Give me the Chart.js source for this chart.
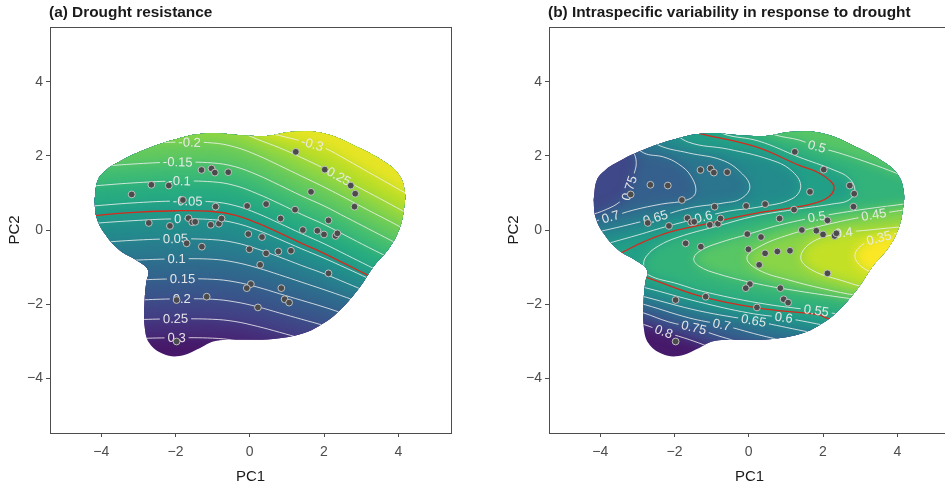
<!DOCTYPE html>
<html lang="en">
<head>
<meta charset="utf-8">
<title>Drought resistance and intraspecific variability across trait space</title>
<script src="https://cdn.jsdelivr.net/npm/chart.js@4.4.1/dist/chart.umd.min.js"></script>
<style>
  html, body { margin: 0; padding: 0; background: #fff; }
  body { position: relative; width: 945px; height: 487px; overflow: hidden; font-family: "Liberation Sans", Arial, Helvetica, sans-serif; }
  .panel { position: absolute; top: 0; width: 470px; height: 487px; }
  .panel-title { position: absolute; top: 3px; font-size: 15.4px; font-weight: bold; line-height: 18px; color: #1a1a1a; white-space: nowrap; }
</style>
</head>
<body>
<div class="panel" style="left:0"><canvas id="resistanceChart" width="470" height="487"></canvas></div>
<div class="panel" style="left:499px"><canvas id="variabilityChart" width="470" height="487"></canvas></div>
<div class="panel-title" style="left:49px">(a) Drought resistance</div>
<div class="panel-title" style="left:548px">(b) Intraspecific variability in response to drought</div>
<script>
// Species scores on the first two trait axes
const speciesPC1 = [1.24, -1.30, -1.03, -0.94, -0.58, -2.65, -2.18, -3.18, 2.02, 1.65, 2.72, 2.84, 2.82, -1.80, -0.92, -0.07, 0.44, 1.22, 0.83, 2.12, -2.72, -2.15, -1.65, -1.55, -1.47, -1.05, -0.83, -0.76, 1.43, 1.82, 2.00, 2.31, 2.36, -0.04, 0.33, -1.70, -1.29, -0.01, 0.44, 0.77, 1.11, 0.28, 2.12, 0.03, -0.08, 0.85, 0.94, 1.06, 0.22, -1.16, -1.97, -1.97];
const speciesPC2 = [2.11, 1.62, 1.66, 1.55, 1.56, 1.22, 1.20, 0.96, 1.63, 1.03, 1.20, 0.98, 0.63, 0.81, 0.63, 0.65, 0.70, 0.55, 0.31, 0.26, 0.19, 0.11, 0.32, 0.21, 0.22, 0.14, 0.17, 0.31, 0.00, -0.02, -0.12, -0.16, -0.09, -0.11, -0.19, -0.36, -0.45, -0.52, -0.63, -0.58, -0.56, -0.94, -1.17, -1.46, -1.57, -1.57, -1.87, -1.96, -2.09, -1.80, -1.89, -3.01];

// Outline of the sampled trait space (closed loop)
const hullPC1 = [-4.18, -4.09, -3.86, -3.59, -2.97, -2.07, -1.17, -0.27, 0.45, 1.17, 1.98, 2.88, 3.69, 4.05, 4.18, 4.16, 4.05, 3.78, 3.33, 2.97, 2.43, 1.98, 1.44, 0.63, -0.63, -0.99, -1.35, -1.89, -2.34, -2.70, -2.83, -2.83, -2.79, -2.74, -3.06, -3.51, -3.91, -4.13, -4.18];
const hullPC2 = [0.81, 1.35, 1.62, 1.80, 2.11, 2.43, 2.61, 2.56, 2.54, 2.65, 2.61, 2.25, 1.80, 1.44, 0.99, 0.63, 0.09, -0.45, -0.99, -1.53, -2.16, -2.52, -2.79, -2.94, -2.97, -3.01, -3.19, -3.40, -3.34, -3.06, -2.61, -1.89, -1.44, -1.08, -0.81, -0.54, -0.09, 0.36, 0.81];

const axisTicks = [-4, -2, 0, 2, 4];

// (a) Drought resistance: one contour per level, PC2 sampled on a shared PC1 grid
const resistanceGridX = [-5.2, -4.2, -3, -2, -1, -0.4, 0.2, 0.8, 1.4, 2, 2.6, 3.2, 3.8, 4.4, 5.2];
const resistanceLevels = [-0.3, -0.25, -0.2, -0.15, -0.1, -0.05, 0, 0.05, 0.1, 0.15, 0.2, 0.25, 0.3];
const resistanceLinesY = [
  [3.19, 3.29, 3.39, 3.43, 3.30, 3.05, 2.70, 2.55, 2.40, 2.22, 1.90, 1.56, 1.22, 0.88, 0.45],
  [2.66, 2.76, 2.86, 2.90, 2.86, 2.70, 2.45, 2.22, 1.95, 1.66, 1.33, 1.01, 0.69, 0.36, -0.07],
  [2.14, 2.23, 2.33, 2.37, 2.35, 2.24, 2.02, 1.74, 1.45, 1.16, 0.85, 0.53, 0.22, -0.10, -0.52],
  [1.60, 1.70, 1.79, 1.83, 1.81, 1.71, 1.49, 1.21, 0.92, 0.65, 0.34, 0.03, -0.28, -0.59, -1.00],
  [1.10, 1.19, 1.28, 1.32, 1.30, 1.20, 0.98, 0.71, 0.42, 0.15, -0.16, -0.47, -0.77, -1.08, -1.49],
  [0.56, 0.65, 0.74, 0.78, 0.76, 0.66, 0.45, 0.18, -0.10, -0.37, -0.67, -0.97, -1.27, -1.57, -1.97],
  [0.10, 0.18, 0.26, 0.30, 0.28, 0.19, 0.00, -0.25, -0.51, -0.76, -1.03, -1.31, -1.59, -1.86, -2.23],
  [-0.42, -0.35, -0.27, -0.24, -0.26, -0.34, -0.51, -0.73, -0.96, -1.18, -1.43, -1.68, -1.92, -2.17, -2.50],
  [-0.94, -0.87, -0.81, -0.78, -0.79, -0.87, -1.02, -1.21, -1.41, -1.61, -1.82, -2.04, -2.26, -2.47, -2.76],
  [-1.47, -1.41, -1.35, -1.32, -1.33, -1.40, -1.54, -1.72, -1.90, -2.08, -2.28, -2.48, -2.67, -2.87, -3.14],
  [-2.00, -1.94, -1.89, -1.86, -1.87, -1.94, -2.07, -2.24, -2.41, -2.58, -2.77, -2.96, -3.15, -3.34, -3.59],
  [-2.53, -2.48, -2.42, -2.40, -2.41, -2.47, -2.60, -2.76, -2.93, -3.09, -3.27, -3.45, -3.63, -3.81, -4.05],
  [-3.04, -2.99, -2.93, -2.91, -2.92, -2.98, -3.11, -3.27, -3.44, -3.60, -3.78, -3.96, -4.14, -4.32, -4.56]
];
const resistanceThresholdY = [0.30, 0.39, 0.48, 0.52, 0.50, 0.40, 0.19, -0.08, -0.36, -0.63, -0.93, -1.23, -1.53, -1.83, -2.23];
const resistanceLabelLevel = [-0.2, -0.15, -0.1, -0.05, 0, 0.05, 0.1, 0.15, 0.2, 0.25, 0.3, -0.3, -0.25];
const resistanceLabelX = [-1.62, -1.94, -1.89, -1.67, -1.94, -2.0, -1.97, -1.81, -1.83, -2.0, -1.97, 1.70, 2.35];
const resistanceLabelY = [2.37, 1.83, 1.32, 0.78, 0.30, -0.24, -0.78, -1.32, -1.86, -2.40, -2.91, 2.37, 1.48];

// (b) Intraspecific variability: contour pieces as [PC1, PC2] pairs
const v075 = [[-3.45, 2.50], [-3.12, 2.12], [-3.03, 1.82], [-3.10, 1.48], [-3.22, 1.10], [-3.45, 0.78], [-3.85, 0.55], [-4.30, 0.40], [-4.85, 0.30]];
const v070 = [[-3.24, 2.43], [-2.83, 2.08], [-2.29, 1.97], [-1.89, 1.78], [-1.56, 1.46], [-1.43, 1.02], [-1.67, 0.81], [-2.35, 0.70], [-3.10, 0.54], [-3.72, 0.35], [-4.15, 0.24], [-4.85, 0.08]];
const v065 = [[-2.83, 2.61], [-2.43, 2.29], [-1.62, 2.08], [-0.73, 1.89], [-0.22, 1.56], [0.03, 1.16], [-0.22, 0.84], [-0.67, 0.73], [-1.62, 0.59], [-2.54, 0.32], [-3.37, 0.11], [-4.05, -0.05], [-4.72, -0.22]];
const v060 = [[-2.16, 2.75], [-1.62, 2.37], [-0.54, 2.18], [0.54, 1.91], [1.13, 1.62], [1.40, 1.19], [1.16, 0.84], [0.27, 0.62], [-0.54, 0.51], [-1.21, 0.35], [-2.16, 0.11], [-2.97, -0.13], [-3.64, -0.32], [-4.31, -0.51]];
const v055 = [[-1.02, 2.83], [-0.67, 2.59], [0.27, 2.40], [1.35, 1.97], [2.29, 1.62], [2.70, 1.40], [2.86, 1.08], [2.70, 0.81], [2.24, 0.70], [1.35, 0.57], [0.19, 0.38], [-0.94, 0.08], [-1.89, -0.19], [-2.43, -0.43], [-2.75, -0.70], [-2.83, -0.94], [-2.70, -1.21], [-1.89, -1.46], [-1.27, -1.65], [0.27, -1.97], [1.81, -2.18], [2.43, -2.27], [3.24, -2.37]];
const v050top = [[0.27, 2.75], [0.73, 2.56], [1.35, 2.43], [1.83, 2.25], [2.43, 2.08], [3.24, 1.81], [3.96, 1.54], [4.85, 1.19]];
const v050 = [[4.99, 0.81], [4.18, 0.70], [2.97, 0.54], [1.83, 0.35], [0.81, 0.13], [0, -0.11], [-0.81, -0.35], [-1.27, -0.54], [-1.48, -0.76], [-1.35, -0.97], [-0.81, -1.19], [0.27, -1.46], [1.35, -1.65], [2.43, -1.81], [3.37, -1.94]];
const v045 = [[4.99, 0.65], [4.18, 0.54], [3.32, 0.40], [2.16, 0.16], [1.08, -0.13], [0.27, -0.46], [-0.05, -0.76], [0.27, -1.08], [1.08, -1.35], [2.16, -1.62], [2.97, -1.78], [3.64, -1.89]];
const v040 = [[4.99, 0.16], [4.05, 0.08], [3.24, 0], [2.56, -0.08], [1.75, -0.30], [1.40, -0.73], [1.70, -1.08], [2.62, -1.40], [3.16, -1.56], [3.78, -1.70]];
const v035 = [[4.99, 0.05], [4.05, -0.08], [3.51, -0.22], [3.13, -0.35], [2.86, -0.67], [3.05, -1.00], [3.51, -1.21], [4.05, -1.38]];
const v060b = [[-3.51, -1.40], [-2.78, -1.56], [-1.35, -1.94], [0, -2.24], [0.94, -2.37], [1.97, -2.56], [2.70, -2.72]];
const v065b = [[-3.51, -1.62], [-2.78, -1.81], [-1.35, -2.18], [0.13, -2.45], [1.35, -2.70], [2.16, -2.86]];
const v070b = [[-3.51, -1.83], [-2.78, -2.02], [-1.62, -2.37], [-0.73, -2.56], [0.27, -2.83], [1.08, -3.02]];
const v075b = [[-3.51, -2.05], [-2.83, -2.24], [-2.16, -2.48], [-1.48, -2.64], [-0.81, -2.86], [0, -3.10]];
const v080b = [[-3.51, -2.37], [-2.80, -2.56], [-2.29, -2.75], [-1.75, -2.91], [-1.21, -3.10], [-0.54, -3.37]];
const vThresholdUpper = [[-1.89, 2.75], [-1.35, 2.61], [0.18, 2.25], [1.35, 1.75], [1.89, 1.54], [2.25, 1.27], [2.29, 1.08], [2.16, 0.90], [1.89, 0.76], [1.35, 0.63], [0.18, 0.45], [-1.08, 0.18], [-2.11, -0.05], [-2.83, -0.32], [-3.28, -0.54], [-3.91, -0.86]];
const vThresholdLower = [[-3.37, -1.08], [-2.70, -1.30], [-1.26, -1.80], [0.27, -2.11], [1.89, -2.29], [2.11, -2.38], [2.70, -2.54]];
const variabilityLabelLine = ['v075', 'v070', 'v065', 'v060', 'v050top', 'v050', 'v045', 'v040', 'v035', 'v055', 'v060b', 'v065b', 'v070b', 'v075b', 'v080b'];
const variabilityLabelText = ['0.75', '0.7', '0.65', '0.6', '0.5', '0.5', '0.45', '0.4', '0.35', '0.55', '0.6', '0.65', '0.7', '0.75', '0.8'];
const variabilityLabelX = [-3.32, -3.72, -2.51, -1.21, 1.83, 1.83, 3.37, 2.56, 3.51, 1.81, 0.94, 0.13, -0.73, -1.48, -2.29];
const variabilityLabelY = [1.16, 0.35, 0.32, 0.32, 2.24, 0.35, 0.40, -0.08, -0.22, -2.24, -2.37, -2.45, -2.56, -2.64, -2.75];

// Sub-level regions {value < level}: contour pieces joined by corners lying outside the hull
const variabilityRegions = [
  [0.8, [['v080b', [5.3, -3.5], [5.3, 5.3], [-5.3, 5.3], [-5.3, -2.37]]]],
  [0.75, [['v075', [-5.3, 0.3], [-5.3, -2.05], 'v075b', [5.3, -3.5], [5.3, 5.3], [-3.45, 5.3]]]],
  [0.7, [['v070', [-5.3, 0.08], [-5.3, -1.83], 'v070b', [5.3, -3.5], [5.3, 5.3], [-3.24, 5.3]]]],
  [0.65, [['v065', [-5.3, -0.22], [-5.3, -1.62], 'v065b', [5.3, -3.5], [5.3, 5.3], [-2.83, 5.3]]]],
  [0.6, [['v060', [-5.3, -0.51], [-5.3, -1.40], 'v060b', [5.3, -3.5], [5.3, 5.3], [-2.16, 5.3]]]],
  [0.55, [['v055', [5.3, -2.6], [5.3, 5.3], [-1.02, 5.3]]]],
  [0.5, [['v050top', [5.3, 1.0], [5.3, 5.3], [0.27, 5.3]], ['v050', [5.3, -2.2], [5.3, 0.9]]]],
  [0.45, [['v045', [5.3, -2.1], [5.3, 0.7]]]],
  [0.4, [['v040', [5.3, -1.9], [5.3, 0.2]]]],
  [0.35, [['v035', [5.3, -1.6], [5.3, 0.1]]]]
];

const FONT = '"Liberation Sans", Arial, Helvetica, sans-serif';
const INK = '#4d4d4d';
const LABEL_FONT = '13px ' + FONT;
const LABEL_INK = 'rgba(236, 236, 236, 0.95)';
Chart.defaults.font.family = FONT;

const viridisStops = ['#440154', '#482475', '#414487', '#355f8d', '#2a788e', '#21918c', '#22a884', '#44bf70', '#7ad151', '#bddf26', '#fde725'];
const viridisRgb = viridisStops.map(h => {
  const n = parseInt(h.slice(1), 16);
  return [n >> 16, (n >> 8) & 255, n & 255];
});

function viridis(t) {
  t = Math.max(0, Math.min(1, t));
  const p = t * (viridisRgb.length - 1);
  const i = Math.min(viridisRgb.length - 2, Math.floor(p));
  const f = p - i;
  const c = viridisRgb[i].map((v, k) => Math.round(v + (viridisRgb[i + 1][k] - v) * f));
  return 'rgb(' + c.join(',') + ')';
}

// reversed palette: high values purple, low values yellow
function reversedScale(lo, hi) {
  return v => viridis((hi - v) / (hi - lo));
}

function toPoints(xs, ys) {
  return xs.map((x, i) => ({ x, y: ys[i] }));
}

function fromPairs(pairs) {
  return pairs.map(p => ({ x: p[0], y: p[1] }));
}

function lineElement(chart, id) {
  const index = chart.data.datasets.findIndex(d => d.lineId === id);
  const line = chart.getDatasetMeta(index).dataset;
  line.updateControlPoints(chart.chartArea, 'x');
  return line;
}

function traceLine(chart, ctx, id, move) {
  const line = lineElement(chart, id);
  for (const segment of line.segments) {
    line.pathSegment(ctx, segment, { move });
  }
}

function traceHull(chart, ctx) {
  ctx.beginPath();
  traceLine(chart, ctx, 'hull', true);
  ctx.closePath();
}

function traceRegion(chart, ctx, steps) {
  const xs = chart.scales.x;
  const ys = chart.scales.y;
  let first = true;
  for (const step of steps) {
    if (typeof step === 'string') {
      traceLine(chart, ctx, step, first);
    } else {
      const px = xs.getPixelForValue(step[0]);
      const py = ys.getPixelForValue(step[1]);
      if (first) ctx.moveTo(px, py); else ctx.lineTo(px, py);
    }
    first = false;
  }
  ctx.closePath();
}

// snap each label onto its contour and take the local direction of the line
function placeLabels(chart, specs) {
  const ctx = chart.ctx;
  ctx.save();
  ctx.font = LABEL_FONT;
  const placed = specs.map(spec => {
    const index = chart.data.datasets.findIndex(d => d.lineId === spec.line);
    const pts = chart.getDatasetMeta(index).data;
    const tx = chart.scales.x.getPixelForValue(spec.x);
    const ty = chart.scales.y.getPixelForValue(spec.y);
    let best = null;
    for (let i = 0; i < pts.length - 1; i++) {
      const a = pts[i], b = pts[i + 1];
      const dx = b.x - a.x, dy = b.y - a.y;
      const len2 = dx * dx + dy * dy || 1;
      const t = Math.max(0, Math.min(1, ((tx - a.x) * dx + (ty - a.y) * dy) / len2));
      const px = a.x + t * dx, py = a.y + t * dy;
      const d = (px - tx) ** 2 + (py - ty) ** 2;
      if (!best || d < best.d) best = { d, x: px, y: py, angle: Math.atan2(dy, dx) };
    }
    let angle = best.angle;
    if (angle > Math.PI / 2) angle -= Math.PI;
    if (angle < -Math.PI / 2) angle += Math.PI;
    return { text: spec.text, x: best.x, y: best.y, angle, w: ctx.measureText(spec.text).width };
  });
  ctx.restore();
  return placed;
}

function labelBox(ctx, l) {
  const c = Math.cos(l.angle), s = Math.sin(l.angle);
  const hw = l.w / 2 + 3, hh = 6;
  const corners = [[-hw, -hh], [hw, -hh], [hw, hh], [-hw, hh]].map(([u, v]) => [l.x + u * c - v * s, l.y + u * s + v * c]);
  ctx.moveTo(corners[0][0], corners[0][1]);
  for (let i = 1; i < 4; i++) ctx.lineTo(corners[i][0], corners[i][1]);
  ctx.closePath();
}

function drawLabels(ctx, labels) {
  ctx.save();
  ctx.font = LABEL_FONT;
  ctx.fillStyle = LABEL_INK;
  ctx.textAlign = 'center';
  ctx.textBaseline = 'middle';
  for (const l of labels) {
    ctx.save();
    ctx.translate(l.x, l.y);
    ctx.rotate(l.angle);
    ctx.fillText(l.text, 0, 0.5);
    ctx.restore();
  }
  ctx.restore();
}

// fills the surface band by band inside the hull, then handles contour clipping and labels
function surfacePlugin(cfg) {
  let labels = [];
  return {
    id: 'surface',
    beforeDatasetsDraw(chart) {
      const { ctx, chartArea: a } = chart;
      ctx.save();
      traceHull(chart, ctx);
      ctx.clip();
      ctx.filter = 'blur(6px)';
      ctx.fillStyle = cfg.colour(cfg.top);
      ctx.fillRect(a.left, a.top, a.width, a.height);
      for (const [level, parts] of cfg.regions) {
        ctx.beginPath();
        parts.forEach(steps => traceRegion(chart, ctx, steps));
        ctx.fillStyle = cfg.colour(level - 0.025);
        ctx.fill();
      }
      ctx.restore();
      labels = placeLabels(chart, cfg.labels);
    },
    beforeDatasetDraw(chart, args) {
      const role = chart.data.datasets[args.index].role;
      const ctx = chart.ctx;
      if (role === 'contour' || role === 'threshold') {
        ctx.save();
        traceHull(chart, ctx);
        ctx.clip();
        if (role === 'contour') {
          ctx.beginPath();
          ctx.rect(0, 0, chart.width, chart.height);
          labels.forEach(l => labelBox(ctx, l));
          ctx.clip('evenodd');
        }
      } else if (role === 'species') {
        drawLabels(ctx, labels);
      }
    },
    afterDatasetDraw(chart, args) {
      const role = chart.data.datasets[args.index].role;
      if (role === 'contour' || role === 'threshold') chart.ctx.restore();
    },
    afterDraw(chart) {
      const { ctx, chartArea: a } = chart;
      ctx.save();
      ctx.strokeStyle = INK;
      ctx.lineWidth = 1;
      ctx.strokeRect(Math.round(a.left) + 0.5, Math.round(a.top) + 0.5, Math.round(a.width), Math.round(a.height));
      ctx.restore();
    }
  };
}

function hullDataset() {
  return { lineId: 'hull', role: 'hull', data: toPoints(hullPC1, hullPC2), borderColor: 'rgba(0,0,0,0)', borderWidth: 0, pointRadius: 0, tension: 0.4, order: 3 };
}

function contourDataset(id, data) {
  return { lineId: id, role: 'contour', data, borderColor: 'rgba(242,242,242,0.9)', borderWidth: 0.9, pointRadius: 0, tension: 0.4, order: 2 };
}

function thresholdDataset(id, data) {
  return { lineId: id, role: 'threshold', data, borderColor: '#d8291d', borderWidth: 1.3, pointRadius: 0, tension: 0.4, order: 1 };
}

function speciesDataset() {
  return {
    role: 'species', data: toPoints(speciesPC1, speciesPC2), showLine: false,
    pointRadius: 3.4, pointBackgroundColor: '#4b4b4b', pointBorderColor: '#c9c9c9', pointBorderWidth: 0.9, order: 0
  };
}

function tickLabel(v) {
  return v < 0 ? '\u2212' + Math.abs(v) : String(v);
}

function axis(horizontal, title) {
  return {
    type: 'linear',
    min: horizontal ? -5.38 : -5.48,
    max: horizontal ? 5.42 : 5.48,
    afterBuildTicks: scale => { scale.ticks = axisTicks.map(value => ({ value })); },
    afterFit: scale => {
      if (horizontal) scale.height = 54; else scale.width = 50;
    },
    ticks: { callback: tickLabel, color: INK, font: { size: 14 }, padding: horizontal ? 7 : 3, maxRotation: 0, autoSkip: false },
    grid: { drawOnChartArea: false, drawTicks: true, tickLength: 4, color: INK, lineWidth: 1 },
    border: { display: true, color: INK, width: 1 },
    title: { display: true, text: title, color: '#1a1a1a', font: { size: 15 }, padding: horizontal ? { top: 0, bottom: 1 } : { top: 6, bottom: 0 } }
  };
}

function buildChart(canvasId, datasets, cfg) {
  return new Chart(document.getElementById(canvasId), {
    type: 'line',
    data: { datasets },
    options: {
      responsive: false,
      animation: false,
      devicePixelRatio: 1,
      events: [],
      layout: { padding: { left: 0, top: 27, right: 19, bottom: 0 } },
      plugins: { legend: { display: false }, tooltip: { enabled: false } },
      scales: { x: axis(true, 'PC1'), y: axis(false, 'PC2') }
    },
    plugins: [surfacePlugin(cfg)]
  });
}

// (a)
const resistanceDatasets = [
  hullDataset(),
  ...resistanceLevels.map((level, i) => contourDataset('r' + i, toPoints(resistanceGridX, resistanceLinesY[i]))),
  thresholdDataset('rT', toPoints(resistanceGridX, resistanceThresholdY)),
  speciesDataset()
];
buildChart('resistanceChart', resistanceDatasets, {
  colour: reversedScale(-0.351, 0.372),
  top: 0.325,
  regions: resistanceLevels.map((level, i) => [level, [['r' + i, [5.3, 5.4], [-5.3, 5.4]]]]).reverse(),
  labels: resistanceLabelLevel.map((level, i) => ({
    line: 'r' + resistanceLevels.indexOf(level), text: String(level), x: resistanceLabelX[i], y: resistanceLabelY[i]
  }))
});

// (b)
const variabilityContours = [
  ['v075', v075], ['v070', v070], ['v065', v065], ['v060', v060], ['v055', v055],
  ['v050top', v050top], ['v050', v050], ['v045', v045], ['v040', v040], ['v035', v035],
  ['v060b', v060b], ['v065b', v065b], ['v070b', v070b], ['v075b', v075b], ['v080b', v080b]
];
const variabilityDatasets = [
  hullDataset(),
  ...variabilityContours.map(([id, pairs]) => contourDataset(id, fromPairs(pairs))),
  thresholdDataset('vTu', fromPairs(vThresholdUpper)),
  thresholdDataset('vTl', fromPairs(vThresholdLower)),
  speciesDataset()
];
buildChart('variabilityChart', variabilityDatasets, {
  colour: reversedScale(0.323, 0.9),
  top: 0.86,
  regions: variabilityRegions,
  labels: variabilityLabelLine.map((line, i) => ({
    line, text: variabilityLabelText[i], x: variabilityLabelX[i], y: variabilityLabelY[i]
  }))
});
</script>
</body>
</html>
